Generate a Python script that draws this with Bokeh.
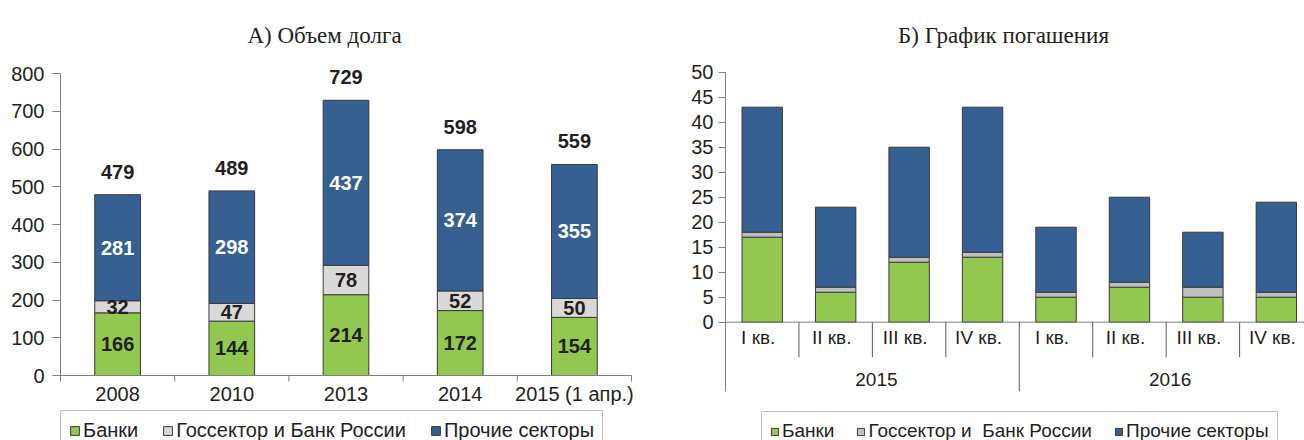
import numpy as np
from bokeh.plotting import figure
from bokeh.models import Range1d, FixedTicker, ColumnDataSource, Legend, LegendItem
from bokeh.layouts import row
from bokeh.embed import file_html
from bokeh.resources import INLINE
from bokeh.core.properties import value

# ---------------- data ----------------
# Panel A: debt volume
title_a = "А) Объем долга"
years_a = ["2008", "2010", "2013", "2014", "2015 (1 апр.)"]
banks_a = [166, 144, 214, 172, 154]
gov_a = [32, 47, 78, 52, 50]
other_a = [281, 298, 437, 374, 355]
yticks_a = [0, 100, 200, 300, 400, 500, 600, 700, 800]
legend_a = ["Банки", "Госсектор и Банк России", "Прочие секторы"]

# Panel B: repayment schedule
title_b = "Б) График погашения"
quarters_b = ["I кв.", "II кв.", "III кв.", "IV кв.", "I кв.", "II кв.", "III кв.", "IV кв."]
groups_b = ["2015", "2016"]
banks_b = [17, 6, 12, 13, 5, 7, 5, 5]
gov_b = [1, 1, 1, 1, 1, 1, 2, 1]
other_b = [25, 16, 22, 29, 13, 17, 11, 18]
yticks_b = [0, 5, 10, 15, 20, 25, 30, 35, 40, 45, 50]
legend_b = ["Банки", "Госсектор и  Банк России", "Прочие секторы"]

# ---------------- styles ----------------
GREEN = "#92C850"
GRAY_A = "#D9D9D9"
GRAY_B = "#BFBFBF"
BLUE = "#366092"
EDGE = "#3a3a3a"
AXIS = "#808080"
SEP = "#5a5a5a"
TXT = "#231F20"
FONT = "Liberation Sans"
SERIF = "Liberation Serif"

# ---------------- layout (page pixels; bokeh page has no body margin) ----------------
TOP = 0
FIG_H = 440
A_LEFT, A_W, A_FRAME_L, A_AXIS_X, A_SLOT = 0, 688, 58, 60, 114.2
A_Y0, A_YMAX_PX = 375.0, 73.0
B_LEFT, B_W, B_FRAME_L, B_AXIS_X, B_SLOT = 688, 616, 721, 723, 73.7
B_Y0, B_YMAX_PX = 321.7, 71.7
LEG_TOP = 413


def make_fig(left, width, frame_l, axis_x, slot, y0, ymax_px, yticks, tick_out, standoff):
    ymax = yticks[-1]
    ppu = (y0 - ymax_px) / ymax
    y_end = (y0 - TOP) / ppu
    y_start = -(TOP + FIG_H - y0) / ppu
    fw = left + width - frame_l
    x_start = -0.5 - (axis_x - frame_l) / slot
    x_end = x_start + fw / slot
    p = figure(width=width, height=FIG_H,
               x_range=Range1d(x_start, x_end), y_range=Range1d(y_start, y_end),
               output_backend="svg", toolbar_location=None, x_axis_location=None,
               min_border_left=frame_l - left, min_border_right=0,
               min_border_top=0, min_border_bottom=0)
    p.outline_line_color = None
    p.grid.grid_line_color = None
    p.background_fill_color = "white"
    p.border_fill_color = "white"
    ax = p.yaxis[0]
    ax.ticker = FixedTicker(ticks=yticks)
    ax.axis_line_color = None
    ax.major_tick_out = tick_out
    ax.major_tick_in = axis_x - frame_l
    ax.major_tick_line_color = AXIS
    ax.minor_tick_line_color = None
    ax.major_label_standoff = standoff
    ax.major_label_text_font = FONT
    ax.major_label_text_font_size = "20px"
    ax.major_label_text_color = TXT
    return p, ppu, x_end


def style_legend(leg, spacing, glyph, font_size, padding):
    leg.orientation = "horizontal"
    leg.border_line_color = AXIS
    leg.border_line_width = 1
    leg.background_fill_color = "white"
    leg.background_fill_alpha = 1.0
    leg.padding = padding
    leg.margin = 0
    leg.spacing = spacing
    leg.label_standoff = 3
    leg.glyph_width = glyph
    leg.glyph_height = glyph
    leg.label_height = 22
    leg.label_text_font = FONT
    leg.label_text_font_size = font_size
    leg.label_text_color = TXT


# ================= Panel A =================
pa, ppu_a, xend_a = make_fig(A_LEFT, A_W, A_FRAME_L, A_AXIS_X, A_SLOT, A_Y0, A_YMAX_PX,
                             yticks_a, 6, 8)
xa = np.arange(len(years_a))
src_a = ColumnDataSource(dict(x=xa, banks=banks_a, gov=gov_a, other=other_a))
rs_a = pa.vbar_stack(["banks", "gov", "other"], x="x", width=0.4, source=src_a,
                     fill_color=[GREEN, GRAY_A, BLUE], line_color=EDGE, line_width=1)

b = np.array(banks_a, dtype=float)
g = np.array(gov_a, dtype=float)
o = np.array(other_a, dtype=float)
tot_a = b + g + o
seg_y = np.concatenate([b / 2, b + g / 2, b + g + o / 2])
seg_x = np.tile(xa, 3)
seg_txt = [str(v) for v in banks_a + gov_a + other_a]
seg_col = [TXT] * (2 * len(xa)) + ["white"] * len(xa)
pa.text(x=list(seg_x), y=list(seg_y), text=seg_txt, text_color=seg_col,
        text_font=value(FONT), text_font_style="bold", text_font_size="20px",
        text_align="center", text_baseline="middle")
pa.text(x=list(xa), y=list(tot_a), text=[str(int(v)) for v in tot_a], text_color=TXT,
        text_font=value(FONT), text_font_style="bold", text_font_size="20px",
        text_align="center", text_baseline="middle", y_offset=-23)

# axes drawn by hand (Excel style)
pa.segment(x0=[-0.5], y0=[yticks_a[-1]], x1=[-0.5], y1=[-6 / ppu_a], line_color=AXIS, line_width=1)
pa.segment(x0=[-0.5], y0=[0], x1=[len(xa) - 0.5], y1=[0], line_color=AXIS, line_width=1)
bnd_a = np.arange(len(xa) + 1) - 0.5
pa.segment(x0=list(bnd_a), y0=[0] * len(bnd_a), x1=list(bnd_a), y1=[-6 / ppu_a] * len(bnd_a),
           line_color=AXIS, line_width=1)
pa.text(x=list(xa), y=[-18.5 / ppu_a] * len(xa), text=years_a, text_color=TXT,
        text_font=value(FONT), text_font_size="20px", text_align="center", text_baseline="middle")
pa.text(x=[(324 - A_AXIS_X) / A_SLOT - 0.5], y=[(A_Y0 - 35) / ppu_a], text=[title_a],
        text_color=TXT, text_font=value(SERIF), text_font_size="23px",
        text_align="center", text_baseline="alphabetic")

leg_a = Legend(items=[LegendItem(label=n, renderers=[r]) for n, r in zip(legend_a, rs_a)],
               location=(A_AXIS_X - A_FRAME_L, TOP + FIG_H - (LEG_TOP + 2 * 8 + 22)))
style_legend(leg_a, 24, 11, "20px", 8)
pa.add_layout(leg_a)

# ================= Panel B =================
pb, ppu_b, xend_b = make_fig(B_LEFT, B_W, B_FRAME_L, B_AXIS_X, B_SLOT, B_Y0, B_YMAX_PX,
                             yticks_b, 5, 5)
xb = np.arange(len(quarters_b))
src_b = ColumnDataSource(dict(x=xb, banks=banks_b, gov=gov_b, other=other_b))
rs_b = pb.vbar_stack(["banks", "gov", "other"], x="x", width=0.55, source=src_b,
                     fill_color=[GREEN, GRAY_B, BLUE], line_color=EDGE, line_width=1)

n_per = len(quarters_b) // len(groups_b)
pb.segment(x0=[-0.5], y0=[yticks_b[-1]], x1=[-0.5], y1=[-69 / ppu_b], line_color=AXIS, line_width=1)
pb.segment(x0=[-0.5], y0=[0], x1=[xend_b], y1=[0], line_color=AXIS, line_width=1)
short_b = [i - 0.5 for i in range(1, len(quarters_b) + 1) if i % n_per != 0]
long_b = [i - 0.5 for i in range(1, len(quarters_b) + 1) if i % n_per == 0]
pb.segment(x0=short_b, y0=[0] * len(short_b), x1=short_b, y1=[-35 / ppu_b] * len(short_b),
           line_color=SEP, line_width=1)
pb.segment(x0=long_b, y0=[0] * len(long_b), x1=long_b, y1=[-69 / ppu_b] * len(long_b),
           line_color=SEP, line_width=1)
pb.text(x=list(xb), y=[-15 / ppu_b] * len(xb), text=quarters_b, text_color=TXT,
        text_font=value(FONT), text_font_size="19px", text_align="center",
        text_baseline="middle", x_offset=-4)
grp_x = list(xb.reshape(len(groups_b), n_per).mean(axis=1))
pb.text(x=grp_x, y=[-57.6 / ppu_b] * len(groups_b), text=groups_b, text_color=TXT,
        text_font=value(FONT), text_font_size="19px", text_align="center",
        text_baseline="middle", x_offset=4)
pb.text(x=[(1002 - B_AXIS_X) / B_SLOT - 0.5], y=[(B_Y0 - 35) / ppu_b], text=[title_b],
        text_color=TXT, text_font=value(SERIF), text_font_size="23px",
        text_align="center", text_baseline="alphabetic")

leg_b = Legend(items=[LegendItem(label=n, renderers=[r]) for n, r in zip(legend_b, rs_b)],
               location=(759 - B_FRAME_L, TOP + FIG_H - (LEG_TOP + 2 * 8 + 22)))
style_legend(leg_b, 22, 9, "19px", 8)
pb.add_layout(leg_b)

layout = row(pa, pb)
open("out.html", "w").write(file_html(layout, INLINE))
